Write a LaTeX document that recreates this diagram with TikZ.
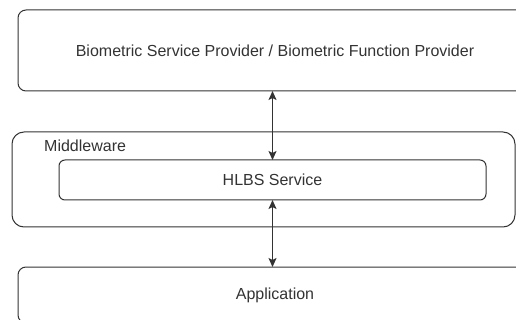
\documentclass[tikz,border=0pt]{standalone}
\usepackage{fontspec}
\setmainfont{Liberation Sans}
\usetikzlibrary{arrows.meta}
\definecolor{linegray}{HTML}{333333}
\definecolor{textgray}{HTML}{333333}
\begin{document}
\begin{tikzpicture}[x=1pt,y=-1pt,
  box/.style={draw=linegray, line width=1pt, rounded corners=#1, inner sep=0pt, outer sep=0pt, text=textgray, font=\fontsize{16}{19}\selectfont},
  box/.default=8pt,
  lbl/.style={text=textgray, font=\fontsize{16}{19}\selectfont, inner sep=0pt},
  tip/.style={Stealth[length=9pt,width=8pt,inset=2pt]},
  link/.style={draw=linegray, line width=1.5pt, {Stealth[length=9pt,width=8pt,inset=2pt]}-{Stealth[length=9pt,width=8pt,inset=2pt]}}]
\useasboundingbox (0,0) rectangle (516,320);
\clip (0,0) rectangle (516,320);
\node[box, minimum width=514pt, minimum height=81pt] (top) at (275,50.5) {Biometric Service Provider / Biometric Function Provider};
\node[box=12pt, minimum width=503pt, minimum height=95pt] (mid) at (263.5,179.5) {};
\node[lbl, anchor=west] (mwlbl) at (44,146) {Middleware};
\node[box=6pt, minimum width=427pt, minimum height=40pt] (hlbs) at (272.5,180) {HLBS Service};
\node[box, minimum width=514pt, minimum height=56pt] (app) at (275,295) {Application};
\draw[link] (hlbs.north) -- (hlbs.north |- top.south);
\draw[link] (hlbs.south) -- (hlbs.south |- app.north);
\end{tikzpicture}
\end{document}
